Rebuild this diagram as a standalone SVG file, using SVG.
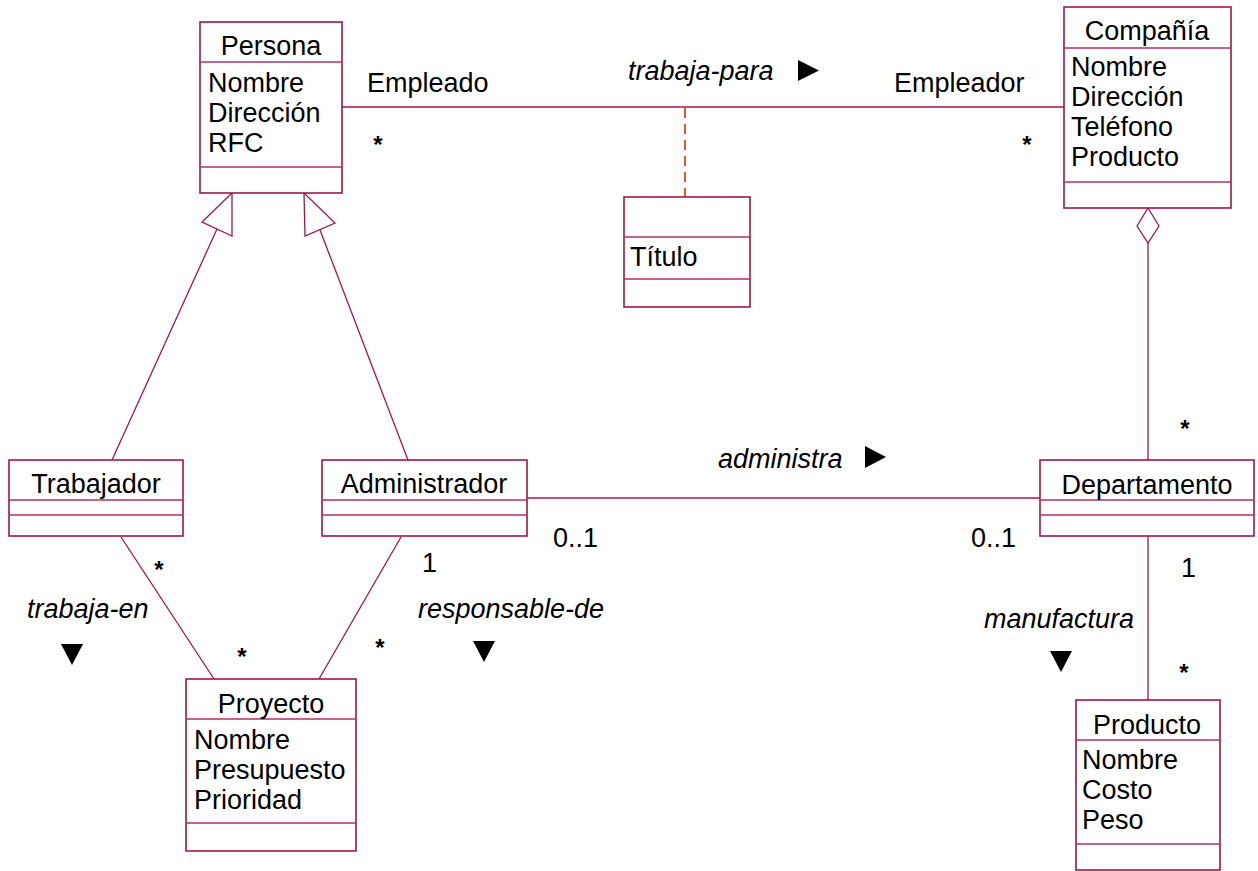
<svg xmlns="http://www.w3.org/2000/svg" width="1258" height="871" viewBox="0 0 1258 871">
<style>
.box{fill:#fff;stroke:#a0164a;stroke-width:1.6}
.div{stroke:#b03060;stroke-width:1.3}
.ln{stroke:#a0164a;stroke-width:1.3;fill:none}
.dash{stroke:#d2501e;stroke-width:1.8;stroke-dasharray:10,6;fill:none}
.hollow{fill:#fff;stroke:#a0164a;stroke-width:1.3}
text{font-family:"Liberation Sans",Arial,sans-serif;font-size:27px;fill:#000}
.t{text-anchor:middle}
.it{font-style:italic}
.st{font-weight:bold;font-size:24px;text-anchor:middle}
.arr{fill:#000}
</style>
<rect width="1258" height="871" fill="#fff"/>

<g id="connectors">
  <line class="ln" x1="342" y1="107" x2="1064" y2="107"/>
  <line class="dash" x1="685" y1="108" x2="685" y2="197"/>
  <line class="ln" x1="217" y1="229" x2="112" y2="460"/>
  <polygon class="hollow" points="232,193 202,222 232,236"/>
  <line class="ln" x1="320" y1="230" x2="408" y2="460"/>
  <polygon class="hollow" points="304,193 305,236 335,223"/>
  <line class="ln" x1="1148" y1="242" x2="1148" y2="460"/>
  <polygon class="hollow" points="1148,208 1159,226 1148,243 1137,226"/>
  <line class="ln" x1="527" y1="498" x2="1040" y2="498"/>
  <line class="ln" x1="121" y1="537" x2="214" y2="679"/>
  <line class="ln" x1="401" y1="537" x2="319" y2="679"/>
  <line class="ln" x1="1148" y1="536" x2="1148" y2="700"/>

  <text x="367" y="92">Empleado</text>
  <text class="it" x="628" y="80">trabaja-para</text>
  <polygon class="arr" points="798,60 798,81 819,70.5"/>
  <text x="894" y="92">Empleador</text>
  <text class="st" x="378" y="153">*</text>
  <text class="st" x="1027" y="153">*</text>
  <text class="st" x="1185" y="437">*</text>
  <text class="it" x="718" y="468">administra</text>
  <polygon class="arr" points="865,446 865,468 886,457"/>
  <text x="553" y="547">0..1</text>
  <text x="971" y="547">0..1</text>
  <text x="1181" y="577">1</text>
  <text class="it" x="984" y="628">manufactura</text>
  <polygon class="arr" points="1050,651 1072,651 1061,672"/>
  <text class="st" x="1184" y="681">*</text>
  <text class="st" x="159" y="578">*</text>
  <text class="it" x="27" y="618">trabaja-en</text>
  <polygon class="arr" points="61,644 83,644 72,665"/>
  <text class="st" x="242" y="665">*</text>
  <text x="422" y="572">1</text>
  <text class="st" x="380" y="656">*</text>
  <text class="it" x="418" y="618">responsable-de</text>
  <polygon class="arr" points="473,641 495,641 484,662"/>
</g>

<g id="persona">
  <rect class="box" x="200" y="22" width="142" height="171"/>
  <line class="div" x1="200" y1="62" x2="342" y2="62"/>
  <line class="div" x1="200" y1="167" x2="342" y2="167"/>
  <text class="t" x="271" y="55">Persona</text>
  <text x="208" y="92">Nombre</text>
  <text x="208" y="122">Dirección</text>
  <text x="208" y="152">RFC</text>
</g>

<g id="compania">
  <rect class="box" x="1064" y="7" width="167" height="201"/>
  <line class="div" x1="1064" y1="48" x2="1231" y2="48"/>
  <line class="div" x1="1064" y1="182" x2="1231" y2="182"/>
  <text class="t" x="1147" y="40">Compañía</text>
  <text x="1071" y="76">Nombre</text>
  <text x="1071" y="106">Dirección</text>
  <text x="1071" y="136">Teléfono</text>
  <text x="1071" y="166">Producto</text>
</g>

<g id="titulo">
  <rect class="box" x="624" y="197" width="126" height="110"/>
  <line class="div" x1="624" y1="237" x2="750" y2="237"/>
  <line class="div" x1="624" y1="279" x2="750" y2="279"/>
  <text x="630" y="266">Título</text>
</g>

<g id="trabajador">
  <rect class="box" x="9" y="460" width="174" height="76"/>
  <line class="div" x1="9" y1="500" x2="183" y2="500"/>
  <line class="div" x1="9" y1="515" x2="183" y2="515"/>
  <text class="t" x="96" y="493">Trabajador</text>
</g>

<g id="administrador">
  <rect class="box" x="322" y="460" width="205" height="76"/>
  <line class="div" x1="322" y1="500" x2="527" y2="500"/>
  <line class="div" x1="322" y1="515" x2="527" y2="515"/>
  <text class="t" x="424" y="493">Administrador</text>
</g>

<g id="departamento">
  <rect class="box" x="1040" y="460" width="214" height="76"/>
  <line class="div" x1="1040" y1="500" x2="1254" y2="500"/>
  <line class="div" x1="1040" y1="515" x2="1254" y2="515"/>
  <text class="t" x="1147" y="494">Departamento</text>
</g>

<g id="proyecto">
  <rect class="box" x="186" y="679" width="170" height="172"/>
  <line class="div" x1="186" y1="719" x2="356" y2="719"/>
  <line class="div" x1="186" y1="823" x2="356" y2="823"/>
  <text class="t" x="271" y="713">Proyecto</text>
  <text x="194" y="749">Nombre</text>
  <text x="194" y="779">Presupuesto</text>
  <text x="194" y="809">Prioridad</text>
</g>

<g id="producto">
  <rect class="box" x="1076" y="700" width="144" height="170"/>
  <line class="div" x1="1076" y1="740" x2="1220" y2="740"/>
  <line class="div" x1="1076" y1="844" x2="1220" y2="844"/>
  <text class="t" x="1147" y="734">Producto</text>
  <text x="1082" y="769">Nombre</text>
  <text x="1082" y="799">Costo</text>
  <text x="1082" y="829">Peso</text>
</g>
</svg>
